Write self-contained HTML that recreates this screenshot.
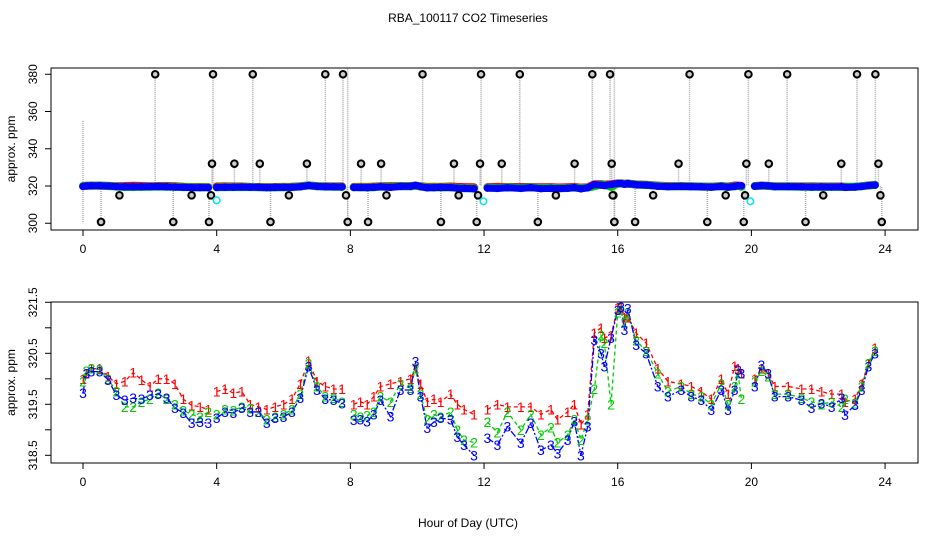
<!DOCTYPE html>
<html><head><meta charset="utf-8">
<style>
html,body{margin:0;padding:0;background:#fff;}
svg{display:block;font-family:"Liberation Sans",Arial,sans-serif;}
</style></head>
<body>
<svg id="chart" width="936" height="540" viewBox="0 0 936 540" xmlns="http://www.w3.org/2000/svg">
<rect width="936" height="540" fill="#fff"/>
<text x="468" y="22" text-anchor="middle" font-size="12">RBA_100117  CO2 Timeseries</text>
<text x="468" y="527" text-anchor="middle" font-size="12">Hour of Day (UTC)</text>
<g id="topPanel"></g>
<g id="botPanel"></g>
</svg>
<script>
// ---- data ----
const hours = [0,0.1,0.25,0.5,0.75,1,1.25,1.5,1.75,2,2.25,2.5,2.75,3,3.25,3.5,3.75,3.9,4.0,4.25,4.5,4.75,5,5.25,5.5,5.75,6,6.25,6.5,6.75,7.0,7.25,7.5,7.75,7.9,8.1,8.3,8.5,8.7,8.9,9.2,9.5,9.8,9.95,10.1,10.3,10.5,10.7,11.0,11.2,11.4,11.7,11.9,12.1,12.4,12.7,13.1,13.4,13.7,14.0,14.2,14.5,14.7,14.9,15.1,15.3,15.5,15.6,15.8,16.0,16.1,16.2,16.3,16.55,16.85,17.2,17.5,17.9,18.2,18.5,18.8,19.1,19.3,19.5,19.6,19.7,19.85,20.1,20.3,20.5,20.7,21.1,21.5,21.8,22.1,22.4,22.7,22.8,23.1,23.3,23.5,23.7];
const series3 = [319.72,320.1,320.14,320.14,319.98,319.68,319.58,319.62,319.6,319.68,319.7,319.62,319.43,319.33,319.13,319.15,319.13,null,319.23,319.35,319.33,319.43,319.35,319.35,319.13,319.23,319.25,319.35,319.62,320.24,319.78,319.6,319.58,319.52,null,319.19,319.2,319.16,319.3,319.58,319.26,319.78,319.78,320.34,319.65,319.04,319.15,319.23,319.2,318.86,318.7,318.5,null,318.84,318.7,319.06,318.74,319.13,318.6,318.7,318.54,318.8,319.16,318.5,319.06,320.76,320.5,320.24,320.8,321.35,321.41,320.96,321.38,320.66,320.5,319.85,319.65,319.78,319.65,319.58,319.39,319.78,319.39,319.78,320.17,320.1,null,319.85,320.27,320.1,319.65,319.65,319.58,319.43,319.52,319.45,319.62,319.29,319.49,319.78,320.24,320.5];
const series2 = [319.95,320.15,320.2,320.18,320.0,319.75,319.45,319.45,319.55,319.6,319.72,319.6,319.5,319.38,319.3,319.25,319.35,null,319.3,319.4,319.38,319.45,319.42,319.35,319.2,319.25,319.3,319.4,319.7,320.3,319.85,319.65,319.62,319.55,null,319.3,319.25,319.28,319.35,319.65,319.55,319.9,319.82,320.2,319.7,319.2,319.3,319.25,319.35,319.0,318.8,318.75,null,319.15,318.95,319.35,319.0,319.3,318.9,319.05,318.75,318.9,319.2,318.8,319.2,319.8,320.85,320.7,319.5,321.3,321.35,321.1,321.3,320.75,320.55,320.1,319.75,319.85,319.7,319.65,319.5,319.9,319.5,319.85,320.1,319.6,null,319.95,320.15,320.05,319.7,319.7,319.62,319.55,319.5,319.55,319.45,319.6,319.52,319.85,320.3,320.55];
const series1 = [320.0,320.1,320.2,320.2,320.05,319.9,319.95,320.12,319.98,319.85,320.0,320.0,319.9,319.6,319.48,319.45,319.4,null,319.75,319.8,319.72,319.75,319.5,319.45,319.4,319.45,319.5,319.6,319.9,320.35,319.95,319.85,319.8,319.8,null,319.5,319.55,319.5,319.65,319.85,319.9,319.95,320.0,320.2,319.9,319.55,319.6,319.55,319.7,319.5,319.4,319.3,null,319.4,319.5,319.45,319.45,319.45,319.3,319.4,319.2,319.35,319.5,319.1,319.3,320.9,321.0,320.8,320.85,321.4,321.4,321.2,321.2,320.9,320.7,320.2,319.95,319.9,319.85,319.75,319.6,320.0,319.7,320.25,320.2,320.1,null,320.0,320.2,320.1,319.85,319.85,319.8,319.8,319.75,319.7,319.7,319.55,319.6,319.9,320.3,320.6];
const outlierHours = [0.54,2.70,3.77,5.61, 5.29,3.86,4.53,6.70, 1.09,3.25,3.83,6.16, 2.16,3.89,5.08, 7.25,7.78,10.16,11.91,13.07,15.24,15.77,18.15,19.91,21.07,23.16,23.71, 8.32,8.92,11.10,11.88,12.53,14.71,15.82,17.82,19.85,20.52,22.69,23.80, 7.87,9.08,11.24,11.82,14.15,15.87,15.85,17.06,19.23,19.81,22.15,23.86, 7.92,8.53,10.71,11.78,13.61,15.90,15.90,16.52,18.68,19.77,21.62,23.90];
const outlierValues = [300.7,300.7,300.7,300.7, 332,332,332,332, 315,315,315,315, 380,380,380, 380,380,380,380,380,380,380,380,380,380,380,380, 332,332,332,332,332,332,332,332,332,332,332,332, 315,315,315,315,315,315,315,315,315,315,315,315, 300.7,300.7,300.7,300.7,300.7,300.7,300.7,300.7,300.7,300.7,300.7,300.7];
const cyanHours = [4.0,11.98,19.97];
const cyanValues = [312.3,311.8,311.8];
const xTicks = [0,4,8,12,16,20,24];
const topYTicks = [300,320,340,360,380];
const botYTicks = [318.5,319,319.5,320,320.5,321,321.5];
const botYLabels = ["318.5","","319.5","","320.5","","321.5"];

const NS = "http://www.w3.org/2000/svg";
function mk(tag, attrs, parent){ const e=document.createElementNS(NS,tag); for(const k in attrs) e.setAttribute(k,attrs[k]); parent.appendChild(e); return e; }

const X0=83, PXH=33.42;
function xs(h){ return X0 + h*PXH; }
function ysTop(v){ return 186 - (v-320)*1.8625; }
function ysBot(v){ return 302.3 + (321.5-v)*51; }

const cols = ["#ff0000","#00cc00","#0000ff"];
const allSeries = [series1, series2, series3];

function axes(g, y0, y1, ys, yticks, ylabels, nameP){
  const fr = mk('rect',{x:51,y:y0,width:867,height:y1-y0,fill:'none',stroke:'#000','stroke-width':1},g);
  
  
  xTicks.forEach(t=>{
    const x=xs(t);
    const l=mk('line',{x1:x,y1:y1,x2:x,y2:y1+6,stroke:'#000'},g);
    
    
    const tx=mk('text',{x:x,y:y1+23,'text-anchor':'middle','font-size':12},g);
    
    
    tx.textContent=t;
  });
  yticks.forEach((v,i)=>{
    const y=ys(v);
    const l=mk('line',{x1:45,y1:y,x2:51,y2:y,stroke:'#000'},g);
    
    
    const lab = ylabels ? ylabels[i] : String(v);
    if(lab){
      const tx=mk('text',{x:0,y:0,'text-anchor':'middle','font-size':12,transform:`translate(37,${y}) rotate(-90)`},g);
      
      
      tx.textContent=lab;
    }
  });
  const yt=mk('text',{x:0,y:0,'text-anchor':'middle','font-size':12,transform:`translate(15,${(y0+y1)/2}) rotate(-90)`},g);
  
  
  yt.textContent='approx. ppm';
}

function segments(vals){
  const segs=[]; let cur=[];
  vals.forEach((v,i)=>{ if(v==null || hours[i]==null){ if(cur.length) segs.push(cur); cur=[]; } else cur.push(i); });
  if(cur.length) segs.push(cur);
  return segs;
}

// ---- top panel ----
const topG=document.getElementById('topPanel');
axes(topG,68,230,ysTop,topYTicks,null,'top');
outlierHours.forEach((h,i)=>{
  const l=mk('line',{x1:xs(h),y1:ysTop(outlierValues[i]),x2:xs(h),y2:ysTop(320),stroke:'#aaa','stroke-width':1.5,'stroke-dasharray':'1,1'},topG);
  
  
});
[[0,355,300],[7.92,383,300],[15.9,383,300]].forEach(s=>{
  const l=mk('line',{x1:xs(s[0]),y1:ysTop(s[1]),x2:xs(s[0]),y2:ysTop(s[2]),stroke:'#aaa','stroke-width':1.5,'stroke-dasharray':'1,1'},topG);
  
  
});
allSeries.forEach((vals,si)=>{
  segments(vals).forEach(seg=>{
    const p=mk('polyline',{points:seg.map(i=>xs(hours[i])+','+ysTop(vals[i])).join(' '),fill:'none',stroke:cols[si],'stroke-width':si===2?7:8,'stroke-linecap':'round'},topG);
    
    
  });
  vals.forEach((v,i)=>{
    if(v==null || hours[i]==null) return;
    const c=mk('circle',{cx:xs(hours[i]),cy:ysTop(v),r:3,fill:'none',stroke:cols[si],'stroke-width':1.5},topG);
    
    
  });
});
outlierHours.forEach((h,i)=>{
  const c=mk('circle',{cx:xs(h),cy:ysTop(outlierValues[i]),r:3.3,fill:'#ccc',stroke:'#000','stroke-width':2},topG);
  
  
});
cyanHours.forEach((h,i)=>{
  const c=mk('circle',{cx:xs(h),cy:ysTop(cyanValues[i]),r:3.3,fill:'none',stroke:'#00e5ee','stroke-width':1.5},topG);
  
  
});

// ---- bottom panel ----
const botG=document.getElementById('botPanel');
axes(botG,302,463,ysBot,botYTicks,botYLabels,'bottom');
const dashes=['4,3','4,3','7,2,2,2'];
allSeries.forEach((vals,si)=>{
  segments(vals).forEach(seg=>{
    const p=mk('polyline',{points:seg.map(i=>xs(hours[i])+','+ysBot(vals[i])).join(' '),fill:'none',stroke:cols[si],'stroke-width':1.3,'stroke-dasharray':dashes[si]},botG);
    
    
  });
});
allSeries.forEach((vals,si)=>{
  vals.forEach((v,i)=>{
    if(v==null || hours[i]==null) return;
    const t=mk('text',{x:xs(hours[i]),y:ysBot(v)+5,'text-anchor':'middle','font-size':14,fill:cols[si]},botG);
    
    
    t.textContent=String(si+1);
  });
});
</script>
</body></html>
